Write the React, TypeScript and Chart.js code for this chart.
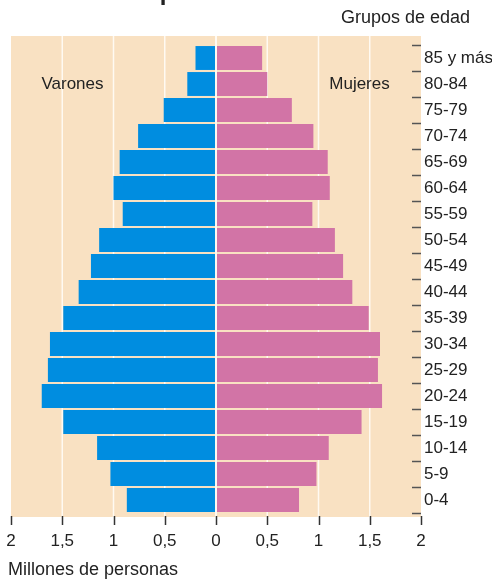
import React, { useEffect, useRef } from "react";
import { Chart, registerables } from "chart.js";

Chart.register(...registerables);

const ageGroups = [
  "85 y más", "80-84", "75-79", "70-74", "65-69", "60-64", "55-59", "50-54", "45-49",
  "40-44", "35-39", "30-34", "25-29", "20-24", "15-19", "10-14", "5-9", "0-4",
];
const varones = [0.2, 0.28, 0.51, 0.76, 0.94, 1.0, 0.91, 1.14, 1.22, 1.34, 1.49, 1.62, 1.64, 1.7, 1.49, 1.16, 1.03, 0.87];
const mujeres = [0.45, 0.5, 0.74, 0.95, 1.09, 1.11, 0.94, 1.16, 1.24, 1.33, 1.49, 1.6, 1.58, 1.62, 1.42, 1.1, 0.98, 0.81];
const xTicks = [-2, -1.5, -1, -0.5, 0, 0.5, 1, 1.5, 2];
const gridValues = [-1.5, -1, -0.5, 0, 0.5, 1, 1.5];

const FONT = "'Liberation Sans', Arial, sans-serif";
const BG = "#f9e1c2";
const BLUE = "#008de0";
const PINK = "#d274a6";
const TEXT = "#222222";

const decorPlugin = {
  id: "decor",
  beforeDraw(chart: any) {
    const { ctx, chartArea } = chart;
    const xs = chart.scales.x;
    const top = chartArea.top - 9;
    const bottom = chartArea.bottom + 4;
    ctx.save();
    ctx.fillStyle = BG;
    ctx.fillRect(chartArea.left, top, chartArea.right - chartArea.left, bottom - top);
    ctx.strokeStyle = "#fffaf2";
    ctx.lineWidth = 1.5;
    for (const v of gridValues) {
      const x = xs.getPixelForValue(v);
      ctx.beginPath();
      ctx.moveTo(x, top);
      ctx.lineTo(x, bottom);
      ctx.stroke();
    }
    ctx.restore();
  },
  afterDatasetsDraw(chart: any) {
    const { ctx, chartArea } = chart;
    const xs = chart.scales.x;
    const x0 = xs.getPixelForValue(0);
    ctx.save();
    ctx.strokeStyle = "#fffaf2";
    ctx.lineWidth = 2;
    ctx.beginPath();
    ctx.moveTo(x0, chartArea.top - 9);
    ctx.lineTo(x0, chartArea.bottom + 4);
    ctx.stroke();
    ctx.restore();
  },
  afterDraw(chart: any) {
    const { ctx, chartArea } = chart;
    const xs = chart.scales.x;
    const ys = chart.scales.y;
    ctx.save();
    const step = ys.getPixelForValue(1) - ys.getPixelForValue(0);
    ctx.strokeStyle = "#555";
    ctx.lineWidth = 1.5;
    for (let i = 0; i <= ageGroups.length; i++) {
      const y = Math.round(ys.getPixelForValue(0) - step / 2 + i * step) + 0.5;
      ctx.beginPath();
      ctx.moveTo(chartArea.right - 9, y);
      ctx.lineTo(chartArea.right, y);
      ctx.stroke();
    }
    ctx.strokeStyle = "#333";
    for (const v of xTicks) {
      const x = Math.round(xs.getPixelForValue(v)) + 0.5;
      ctx.beginPath();
      ctx.moveTo(x, chartArea.bottom + 3);
      ctx.lineTo(x, chartArea.bottom + 12);
      ctx.stroke();
    }
    ctx.fillStyle = TEXT;
    ctx.textBaseline = "middle";
    ctx.font = `17px ${FONT}`;
    ctx.textAlign = "center";
    const yLab = ys.getPixelForValue(1);
    ctx.fillText("Varones", xs.getPixelForValue(-1.4), yLab);
    ctx.fillText("Mujeres", xs.getPixelForValue(1.4), yLab);
    ctx.font = `18px ${FONT}`;
    ctx.textAlign = "right";
    ctx.fillText("Grupos de edad", 470, 18);
    ctx.textAlign = "left";
    ctx.fillText("Millones de personas", 8, 570);
    ctx.font = `bold 24px ${FONT}`;
    ctx.textBaseline = "alphabetic";
    ctx.fillText("Pirámide de población", 17, 0);
    ctx.restore();
  },
};

export default function App() {
  const ref = useRef<HTMLCanvasElement>(null);
  useEffect(() => {
    if (!ref.current) return;
    const chart = new Chart(ref.current, {
      type: "bar",
      data: {
        labels: ageGroups,
        datasets: [
          {
            label: "Varones",
            data: varones.map((v) => -v),
            backgroundColor: BLUE,
            borderWidth: 0,
            barPercentage: 0.92,
            categoryPercentage: 1,
          },
          {
            label: "Mujeres",
            data: mujeres,
            backgroundColor: PINK,
            borderWidth: 0,
            barPercentage: 0.92,
            categoryPercentage: 1,
          },
        ],
      },
      options: {
        indexAxis: "y",
        animation: false,
        responsive: false,
        maintainAspectRatio: false,
        layout: { padding: { left: 11, top: 45, right: 0, bottom: 0 } },
        plugins: { legend: { display: false }, tooltip: { enabled: false }, title: { display: false } },
        scales: {
          x: {
            type: "linear",
            stacked: true,
            min: -2,
            max: 2,
            afterFit: (s: any) => {
              s.height = 67;
              s.paddingLeft = 0;
              s.paddingRight = 0;
            },
            afterBuildTicks: (s: any) => {
              s.ticks = xTicks.map((v) => ({ value: v }));
            },
            grid: { display: false, drawTicks: false },
            border: { display: false },
            ticks: {
              padding: 18,
              color: TEXT,
              font: { family: FONT, size: 17 },
              callback: (v: any) => String(Math.abs(Number(v))).replace(".", ","),
            },
          },
          y: {
            type: "category",
            stacked: true,
            position: "right",
            afterFit: (s: any) => {
              s.width = 71;
              s.paddingTop = 0;
              s.paddingBottom = 0;
            },
            grid: { display: false, drawTicks: false },
            border: { display: false },
            ticks: {
              padding: 3,
              color: TEXT,
              font: { family: FONT, size: 17 },
            },
          },
        },
      },
      plugins: [decorPlugin],
    });
    return () => chart.destroy();
  }, []);
  return (
    <div style={{ position: "fixed", left: 0, top: 0, width: 492, height: 580, background: "#fff" }}>
      <canvas ref={ref} width={492} height={580} style={{ display: "block" }} />
    </div>
  );
}
